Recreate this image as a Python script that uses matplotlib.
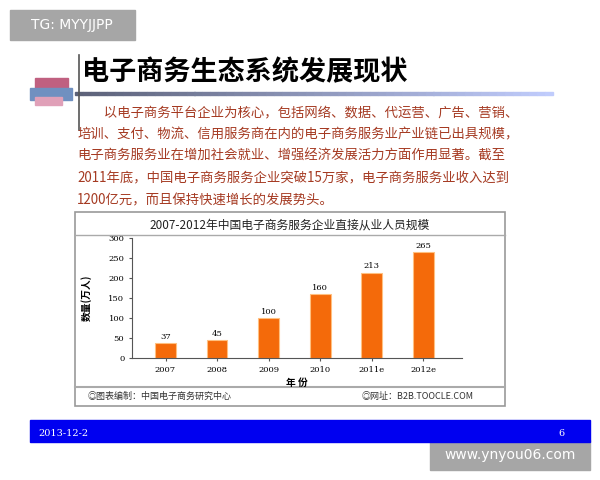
import matplotlib
matplotlib.use("Agg")
import matplotlib.pyplot as plt
from matplotlib.patches import Rectangle
import numpy as np

years = ["2007", "2008", "2009", "2010", "2011e", "2012e"]
values = [37, 45, 100, 160, 213, 265]
yticks = [0, 50, 100, 150, 200, 250, 300]
title = "电子商务生态系统发展现状"
chart_title = "2007-2012年中国电子商务服务企业直接从业人员规模"
para = ["　　以电子商务平台企业为核心，包括网络、数据、代运营、广告、营销、",
        "培训、支付、物流、信用服务商在内的电子商务服务业产业链已出具规模，",
        "电子商务服务业在增加社会就业、增强经济发展活力方面作用显著。截至",
        "2011年底，中国电子商务服务企业突破15万家，电子商务服务业收入达到",
        "1200亿元，而且保持快速增长的发展势头。"]

plt.rcParams["font.family"] = ["Noto Sans CJK SC", "DejaVu Sans"]
W, H = 600, 480
fig = plt.figure(figsize=(6, 4.8), dpi=100)
fig.patch.set_facecolor("white")

def fx(x): return x / W
def fy(y): return 1 - y / H

def rect(x0, y0, x1, y1, **kw):
    fig.patches.append(Rectangle((fx(x0), fy(y1)), fx(x1 - x0), (y1 - y0) / H,
                                 transform=fig.transFigure, **kw))

# watermark boxes
rect(10, 10, 135, 40, color="#a6a6a6")
fig.text(fx(72), fy(25), "TG: MYYJJPP", color="white", fontsize=10, ha="center", va="center",
         family="DejaVu Sans")
rect(430, 440, 590, 470, color="#a6a6a6")
fig.text(fx(510), fy(455), "www.ynyou06.com", color="white", fontsize=10, ha="center", va="center",
         family="DejaVu Sans")

# decoration
rect(35, 78, 68, 92, color="#c06080")
rect(30, 88, 72, 100, color="#7090c0")
rect(35, 97, 62, 105, color="#e0a0b8")
for i, x in enumerate(np.linspace(75, 545, 60)):
    c = 0.45 + 0.5 * i / 60
    rect(x, 92, x + 8, 95, color=(c * 0.8, c * 0.85, min(1, c * 1.05)))
fig.lines.append(plt.Line2D([fx(79), fx(79)], [fy(55), fy(130)], transform=fig.transFigure,
                            color="#555555", lw=1.2))
fig.text(fx(82), fy(72), title, fontsize=19.5, fontweight="bold", va="center", ha="left")

ys = [112, 134, 156, 178, 200]
for y, t in zip(ys, para):
    fig.text(fx(77), fy(y), t, fontsize=9.6, color="#a53a22", va="center", ha="left")

# chart frame
rect(75, 212, 505, 406, facecolor="white", edgecolor="#999999", lw=1.2)
fig.lines.append(plt.Line2D([fx(75), fx(505)], [fy(235), fy(235)], transform=fig.transFigure,
                            color="#aaaaaa", lw=1))
fig.lines.append(plt.Line2D([fx(75), fx(505)], [fy(387), fy(387)], transform=fig.transFigure,
                            color="#aaaaaa", lw=1.5))
fig.text(fx(290), fy(225), chart_title, fontsize=8.5, ha="center", va="center", color="#222222")
fig.text(fx(88), fy(396), "◎图表编制：中国电子商务研究中心", fontsize=6.5, va="center", color="#333333")
fig.text(fx(362), fy(396), "◎网址：B2B.TOOCLE.COM", fontsize=6.5, va="center", color="#333333")

ax = fig.add_axes([fx(132), fy(358), fx(462 - 132), (358 - 238) / H])
ax.set_zorder(5)
ax.patch.set_alpha(0)
x = np.arange(len(years))
ax.bar(x, values, width=0.4, color="#f46a0a", edgecolor="#ffc080", lw=0.8)
for xi, v in zip(x, values):
    ax.text(xi, v + 6, str(v), ha="center", va="bottom", fontsize=6, family="DejaVu Serif")
ax.set_xlim(-0.65, 5.75)
ax.set_ylim(0, 300)
ax.set_yticks(yticks)
ax.set_xticks(x)
ax.set_xticklabels(years)
ax.tick_params(labelsize=6, length=2, color="#555555")
for l in ax.get_xticklabels() + ax.get_yticklabels():
    l.set_family("DejaVu Serif")
for s in ["top", "right"]:
    ax.spines[s].set_visible(False)
ax.spines["left"].set_color("#555555")
ax.spines["bottom"].set_color("#555555")
ax.set_xlabel("年 份", fontsize=7, fontweight="bold", labelpad=3)
ax.set_ylabel("数量(万人)", fontsize=7, fontweight="bold", labelpad=12)

# footer
rect(30, 420, 590, 442, color="#0000f0")
fig.text(fx(38), fy(434), "2013-12-2", fontsize=7, color="white", va="center", family="DejaVu Serif")
fig.text(fx(558), fy(434), "6", fontsize=7, color="white", va="center", family="DejaVu Serif")

fig.savefig("out.png", dpi=100)
